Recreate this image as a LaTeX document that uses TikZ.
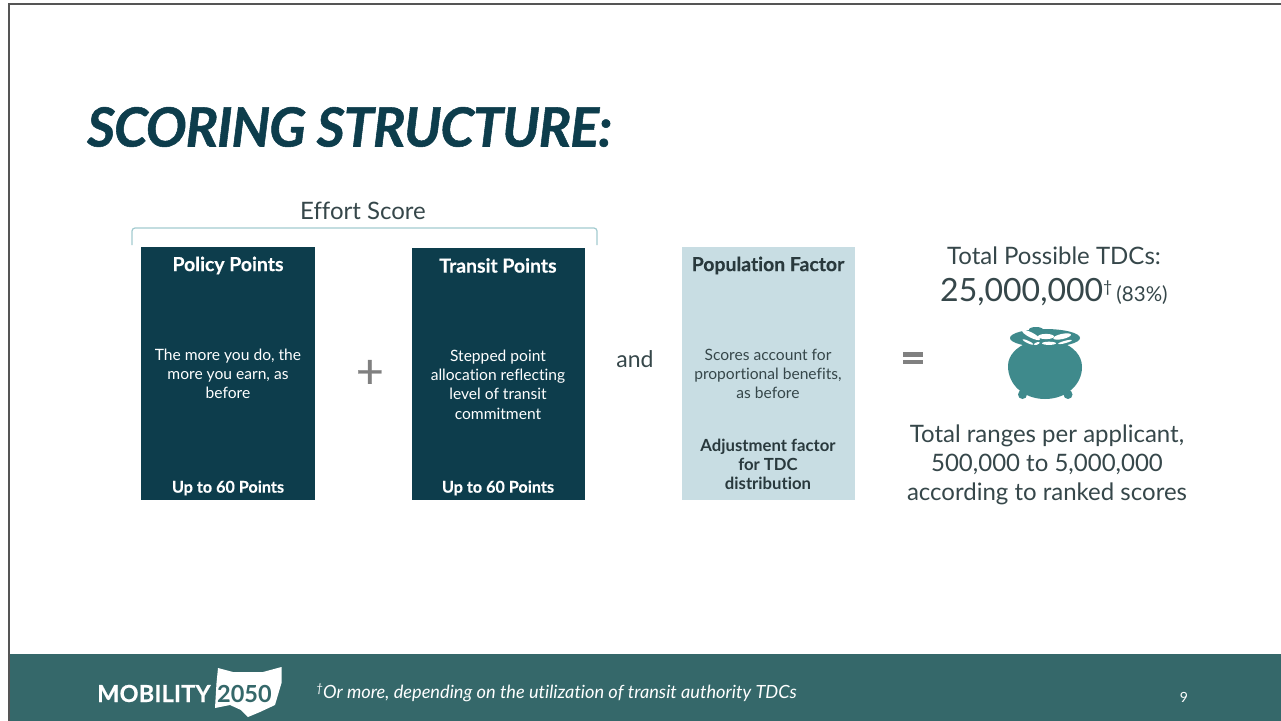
\documentclass[tikz,border=0pt]{standalone}
\usepackage{fontspec}
\setmainfont{Lato}[Ligatures=NoCommon]
\definecolor{dark}{HTML}{0D3D4C}
\definecolor{light}{HTML}{C8DDE3}
\definecolor{foot}{HTML}{35686A}
\definecolor{pot}{HTML}{3F8A8C}
\definecolor{txt}{HTML}{36474A}
\definecolor{txtd}{HTML}{29393D}
\definecolor{brk}{HTML}{A3CBD0}
\definecolor{frm}{HTML}{555555}
\newcommand{\fs}[2]{\fontsize{#1bp}{#2bp}\selectfont}
\newcommand{\heavy}{\addfontfeature{FakeBold=0.4}}
\tikzset{
  lab/.style={inner sep=0pt,align=center,anchor=center},
  boxtxt/.style={lab,font=\fs{15.6}{19.3}},
  boxhead/.style={lab,font=\fs{19.4}{22}\bfseries\addfontfeature{FakeBold=0.3}},
  boxfoot/.style={lab,font=\fs{16.2}{19.3}\bfseries\addfontfeature{FakeBold=0.2}},
  bigtxt/.style={lab,text=txt,font=\fs{24}{29}},
}
\begin{document}
\begin{tikzpicture}[x=1bp,y=-1bp]
\useasboundingbox (0,0) rectangle (1281,721);
\fill[white] (0,0) rectangle (1281,721);
% slide frame
\draw[frm,line width=2bp] (9,721) -- (9,4) -- (1281,4);
% footer
\fill[foot] (10,654) rectangle (1281,721);
% title
\node[lab,anchor=west,text=dark,font=\fs{54}{60}\bfseries\itshape\addfontfeature{FakeBold=1,LetterSpace=-1.7}] (title) at (87,127) {SCORING STRUCTURE:};
% bracket
\coordinate (bl) at (132,245);
\coordinate (br) at (597,245);
\draw[brk,line width=1.2bp,rounded corners=3bp] (bl) -- (132,228) -- (597,228) -- (br);
\node[bigtxt,text=txt] (effort) at (363,211) {Effort Score};
% boxes
\fill[dark] (141,247) rectangle (314.5,499.5);
\fill[dark] (411.7,248) rectangle (585,500);
\fill[light] (682,247) rectangle (855,499.5);
\node[boxhead,text=white] (h1) at (228,265.5) {Policy Points};
\node[boxtxt,text=white] (b1) at (228,374) {The more you do, the\\more you earn, as\\before};
\node[boxfoot,text=white] (f1) at (228,488) {Up to 60 Points};
\node[boxhead,text=white] (h2) at (498,265.5) {Transit Points};
\node[boxtxt,text=white] (b2) at (498,384.5) {Stepped point\\allocation reflecting\\level of transit\\commitment};
\node[boxfoot,text=white] (f2) at (498,488) {Up to 60 Points};
\node[boxhead,text=txtd] (h3) at (768,265.5) {Population Factor};
\node[boxtxt,text=txt] (b3) at (768,374) {Scores account for\\proportional benefits,\\as before};
\node[boxfoot,text=txtd,font=\fs{16.7}{19.3}\bfseries] (f3) at (768,464.5) {Adjustment factor\\for TDC\\distribution};
% operators
\node[lab,text=black!50,font=\fs{48}{48}\heavy] (plus) at (369.8,374) {+};
\node[lab,text=txt,font=\fs{23}{28}] (and) at (635,359) {and};
\fill[black!50] (903,352) rectangle (923,356.5);
\fill[black!50] (903,359.5) rectangle (923,364);
% right column
\node[bigtxt] (tot) at (1054,256) {Total Possible TDCs:};
\node[lab,text=txt,anchor=base west] (num) at (940,301) {\fs{32}{36}25,000,000\raisebox{9bp}{\fs{16}{16}†}\hspace{4bp}\fs{20.5}{24}(83\%)};
\node[bigtxt] (rng) at (1047,465) {Total ranges per applicant,\\500,000 to 5,000,000\\according to ranked scores};
% pot
\fill[pot] (1008,366) .. controls (1008,355) and (1017,347) .. (1027,343) -- (1063,343) .. controls (1073,347) and (1082,355) .. (1082,367)
  .. controls (1082,385) and (1066,399) .. (1045,399) .. controls (1024,399) and (1008,385) .. (1008,366) -- cycle;
\fill[pot] (1022.5,394.5) circle (4.5bp);
\fill[pot] (1068,394.5) circle (4.5bp);
\fill[pot] (1045,338) ellipse (35bp and 9bp);
\fill[pot] (1036,329.5) ellipse (7bp and 2.5bp);
\fill[white,rotate around={-27:(1031,335)}] (1031,335) ellipse (10bp and 2.6bp);
\fill[white] (1046,336.5) ellipse (8bp and 2.6bp);
\fill[white,rotate around={12:(1062,336)}] (1062,336.5) ellipse (9bp and 2.6bp);
\fill[white,rotate around={-25:(1028,342)}] (1028,342) ellipse (6bp and 1.2bp);
\fill[white] (1049,343.3) ellipse (7bp and 1.6bp);
\fill[white,rotate around={15:(1065,342)}] (1065,342) ellipse (7bp and 1.2bp);
\fill[white,rotate around={20:(1037,344)}] (1037,343.5) ellipse (3bp and 1.2bp);
% footer content
\fill[white] (218,668) -- (233,672) -- (263,672) -- (281.5,667) -- (281.5,683) -- (275,705) -- (260,712) -- (248,717) -- (241,710) -- (230,705) -- (215,708) -- (216.5,683) -- cycle;
\node[lab,anchor=base west,text=white,font=\fs{23.5}{24}\bfseries\addfontfeature{FakeBold=0.5,LetterSpace=0.8}] (mob) at (97,702) {MOBILITY};
\node[lab,anchor=base west,text=foot,font=\fs{23.5}{24}\bfseries] (yr) at (217,702) {2050};
\node[lab,anchor=base west,text=white,font=\fs{18.2}{20}\itshape] (note) at (316,698) {\raisebox{6bp}{\fs{12}{12}†}Or more, depending on the utilization of transit authority TDCs};
\node[lab,text=white,font=\fs{14}{16}] (pg) at (1184,697) {9};
\end{tikzpicture}
\end{document}
